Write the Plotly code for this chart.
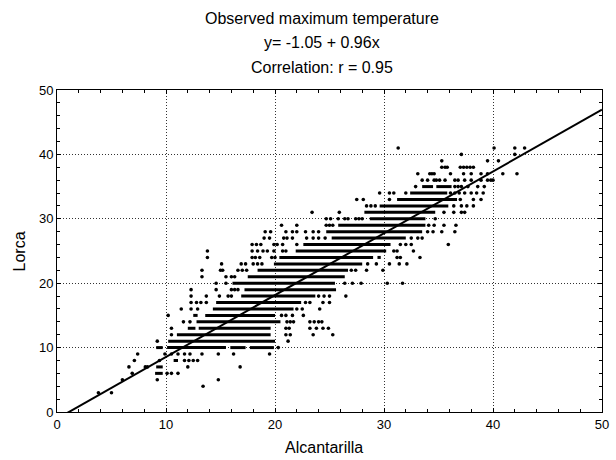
import plotly.graph_objects as go

# ---- data (Alcantarilla = x, Lorca = y) ----
# dense runs of overlapping observations along a Lorca row
seg_lorca = [6, 7, 8,
             10, 10, 10, 10,
             11, 12, 13, 13, 14, 15, 15,
             16, 17, 18, 19, 20, 21, 22, 23, 24, 24,
             25, 26, 27, 28, 29, 30, 31, 32, 33, 34, 35, 35]
seg_alc_start = [9.0, 9.1, 10.7,
                 9.1, 10.1, 15.9, 17.7,
                 10.2, 11.0, 12.0, 13.0, 12.8, 12.5, 13.6,
                 14.3, 14.6, 16.9, 17.2, 16.1, 17.5, 18.4, 19.9, 20.4, 29.4,
                 21.9, 22.6, 25.2, 24.7, 25.8, 28.7, 28.2, 29.6, 31.2, 32.4, 33.5, 34.8]
seg_alc_end = [9.7, 9.7, 11.1,
               9.7, 15.5, 17.3, 19.9,
               20.0, 19.6, 12.7, 19.6, 20.5, 12.9, 20.0,
               21.7, 22.4, 23.7, 25.6, 25.5, 26.4, 26.7, 28.0, 29.0, 29.7,
               30.2, 30.6, 32.0, 33.5, 33.8, 33.8, 34.7, 35.9, 36.7, 35.8, 34.5, 36.2]

# isolated observations
point_alc = [
    3.8, 5.0,
    13.4,
    6.0, 9.2, 14.8,
    6.9, 10.1, 10.5, 11.1,
    6.6, 8.1, 8.3, 12.0, 16.8,
    7.1, 9.4, 11.7, 12.1, 12.5, 12.9,
    7.4, 9.9, 10.5, 11.1, 11.7, 12.2, 13.3, 14.8, 16.2, 19.5,
    20.3,
    9.2, 21.2,
    10.5, 21.0, 21.4, 23.5, 25.3,
    10.5, 21.0, 21.3, 23.2, 23.8, 24.4, 24.9,
    11.6, 12.2, 21.1, 21.4, 21.7, 23.2, 23.6, 24.0, 24.3,
    10.2, 20.6, 21.0, 21.6, 22.6,
    11.4, 12.3, 12.9, 22.0, 22.5, 24.1,
    12.3, 12.8, 13.2, 13.7, 22.8, 23.2, 24.4, 25.0,
    12.3, 13.7, 14.9, 15.7, 16.0, 24.0, 24.5, 25.0, 26.5,
    12.3, 14.6, 16.0, 16.3, 16.6,
    14.6, 15.5, 26.4, 27.1, 27.9, 30.3, 31.7,
    13.3, 15.5, 16.0, 16.3,
    13.3, 15.0, 15.2, 16.6, 17.0, 17.4, 27.0, 27.4, 28.4, 29.9,
    15.1, 16.9, 17.3, 18.0, 18.4, 18.8, 28.5, 29.3, 30.5, 31.4, 32.1,
    13.8, 17.9, 18.2, 18.6, 19.7, 20.0, 31.2, 31.5, 33.3,
    13.8, 17.9, 18.4, 18.9, 19.3, 19.9, 20.7, 21.0, 30.9, 31.2, 32.7,
    17.9, 18.3, 18.7, 19.9, 20.2, 20.7, 22.0, 31.5, 32.0, 32.5, 35.9,
    19.0, 19.5, 20.8, 21.1, 21.6, 22.9, 23.5, 24.0, 24.6, 32.5, 33.1, 33.5,
    19.1, 19.6, 21.0, 21.6, 22.0, 22.8, 23.5, 24.0, 34.0, 34.5, 35.3, 36.5,
    20.6, 22.0, 24.7, 25.0, 25.3, 34.1, 34.6, 35.5, 36.6,
    24.7, 25.1, 25.8, 26.4, 26.7, 27.4, 27.7, 28.0, 34.7,
    23.4, 25.9, 35.5, 36.4, 37.1, 37.4,
    28.4, 28.8, 29.2, 36.4, 37.1, 37.6, 38.2,
    27.5, 28.1, 30.5, 37.0, 38.2, 38.9,
    29.6, 30.5, 30.9, 32.0, 36.1, 36.5, 36.9, 37.4, 38.0, 38.5, 39.1,
    32.9, 36.5, 36.8, 37.1, 37.7, 38.6, 39.2,
    33.5, 34.0, 34.6, 34.8, 35.1, 35.6, 36.5, 36.8, 37.4, 38.0, 38.9, 39.5, 39.8, 40.0,
    33.1, 34.2, 34.4, 34.6, 36.1, 37.3, 38.0, 38.9, 39.5, 40.9, 42.2,
    35.3, 35.6, 35.8, 37.0, 37.3, 37.6, 37.9, 38.2,
    35.3, 39.5, 40.5,
    37.1, 42.0,
    31.3, 40.1, 42.0, 42.9,
]
point_lorca = [
    3, 3,
    4,
    5, 5, 5,
    6, 6, 6, 6,
    7, 7, 7, 7, 7,
    8, 8, 8, 8, 8, 8,
    9, 9, 9, 9, 9, 9, 9, 9, 9, 9,
    10,
    11, 11,
    12, 12, 12, 12, 12,
    13, 13, 13, 13, 13, 13, 13,
    14, 14, 14, 14, 14, 14, 14, 14, 14,
    15, 15, 15, 15, 15,
    16, 16, 16, 16, 16, 16,
    17, 17, 17, 17, 17, 17, 17, 17,
    18, 18, 18, 18, 18, 18, 18, 18, 18,
    19, 19, 19, 19, 19,
    20, 20, 20, 20, 20, 20, 20,
    21, 21, 21, 21,
    22, 22, 22, 22, 22, 22, 22, 22, 22, 22,
    23, 23, 23, 23, 23, 23, 23, 23, 23, 23, 23,
    24, 24, 24, 24, 24, 24, 24, 24, 24,
    25, 25, 25, 25, 25, 25, 25, 25, 25, 25, 25,
    26, 26, 26, 26, 26, 26, 26, 26, 26, 26, 26,
    27, 27, 27, 27, 27, 27, 27, 27, 27, 27, 27, 27,
    28, 28, 28, 28, 28, 28, 28, 28, 28, 28, 28, 28,
    29, 29, 29, 29, 29, 29, 29, 29, 29,
    30, 30, 30, 30, 30, 30, 30, 30, 30,
    31, 31, 31, 31, 31, 31,
    32, 32, 32, 32, 32, 32, 32,
    33, 33, 33, 33, 33, 33,
    34, 34, 34, 34, 34, 34, 34, 34, 34, 34, 34,
    35, 35, 35, 35, 35, 35, 35,
    36, 36, 36, 36, 36, 36, 36, 36, 36, 36, 36, 36, 36, 36,
    37, 37, 37, 37, 37, 37, 37, 37, 37, 37, 37,
    38, 38, 38, 38, 38, 38, 38, 38,
    39, 39, 39,
    40, 40,
    41, 41, 41, 41,
]
assert len(point_alc) == len(point_lorca), (len(point_alc), len(point_lorca))
assert len(seg_lorca) == len(seg_alc_start) == len(seg_alc_end)

# regression (from the title)
fit_intercept = -1.05
fit_slope = 0.96
fit_x = [0, 50]

title_lines = ["Observed maximum temperature",
               "y= -1.05 + 0.96x",
               "Correlation: r = 0.95"]
tick_vals = [0, 10, 20, 30, 40, 50]
x_title = "Alcantarilla"
y_title = "Lorca"

# ---- figure ----
FONT = "Liberation Sans, Arial, Helvetica, sans-serif"

seg_x, seg_y = [], []
for yv, a, b in zip(seg_lorca, seg_alc_start, seg_alc_end):
    seg_x += [a, b, None]
    seg_y += [yv, yv, None]

fig = go.Figure()
fig.add_trace(go.Scatter(x=seg_x, y=seg_y, mode="lines",
                         line=dict(color="black", width=3),
                         hoverinfo="skip", showlegend=False))
fig.add_trace(go.Scatter(x=point_alc, y=point_lorca, mode="markers",
                         marker=dict(color="black", size=3.6, line=dict(width=0)),
                         showlegend=False))
fig.add_trace(go.Scatter(x=fit_x, y=[fit_intercept + fit_slope * v for v in fit_x],
                         mode="lines", line=dict(color="black", width=2),
                         showlegend=False))

W, H = 616, 460
L, R, T, B = 57, 7, 90, 48
pw, ph = W - L - R, H - T - B


def py_paper(py):
    return (H - B - py) / ph


def px_paper(px):
    return (px - L) / pw


for txt, py in zip(title_lines, [18, 43, 67]):
    fig.add_annotation(text=txt, x=px_paper(325), y=py_paper(py),
                       xref="paper", yref="paper", showarrow=False,
                       xanchor="center", yanchor="middle",
                       font=dict(family=FONT, size=16, color="black"))

fig.add_annotation(text=x_title, x=px_paper(327), y=py_paper(447),
                   xref="paper", yref="paper", showarrow=False,
                   xanchor="center", yanchor="middle",
                   font=dict(family=FONT, size=16, color="black"))
fig.add_annotation(text=y_title, x=px_paper(19), y=py_paper(251),
                   xref="paper", yref="paper", showarrow=False, textangle=-90,
                   xanchor="center", yanchor="middle",
                   font=dict(family=FONT, size=16, color="black"))

axis_common = dict(
    range=[0, 50], tickvals=tick_vals, ticktext=[str(v) for v in tick_vals],
    showgrid=True, gridcolor="#333333", gridwidth=1, griddash="1px,2px",
    zeroline=False, showline=True, linecolor="black", linewidth=1, mirror="ticks",
    ticks="inside", ticklen=4, tickcolor="black", tickwidth=1,
    minor=dict(dtick=2, ticks="inside", ticklen=3, tickcolor="black", showgrid=False),
    tickfont=dict(family=FONT, size=13, color="black"),
    ticklabeloverflow="allow",
    fixedrange=True,
)
fig.update_xaxes(**axis_common)
fig.update_yaxes(**axis_common)

fig.update_layout(
    width=W, height=H,
    margin=dict(l=L, r=R, t=T, b=B, pad=0),
    paper_bgcolor="white", plot_bgcolor="white",
    showlegend=False,
    hovermode=False,
    font=dict(family=FONT, color="black"),
)

# remove the page's default body margin so the 616x460 figure fills the window
fig.write_html("out.html",
               config={"displayModeBar": False, "staticPlot": True},
               post_script="document.body.style.margin='0';"
                           "document.body.style.overflow='hidden';")
